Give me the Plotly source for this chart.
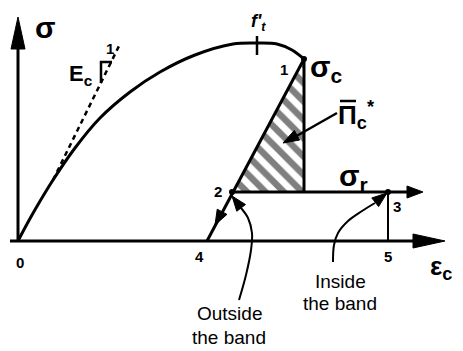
"""Schematic stress-strain diagram with unloading paths (sigma vs eps_c)."""

import math
import plotly.graph_objects as go

W, H = 463, 351
PAGE_MARGIN = 8   # browser body margin; the plot area starts here
FONT = 'Liberation Sans'

# axes (pixel frame, y downward)
ORIGIN = (18, 241)
X_TIP = (445, 241)
Y_TIP = (18, 17)

# envelope: origin -> peak f't -> point 1
CURVE_X = [18, 27, 36, 53, 75, 100, 130, 160, 195, 233, 257, 277, 292, 304]
CURVE_Y = [241, 224, 208, 180, 148, 118, 92, 72, 55, 44, 43, 44, 50, 59]

# initial tangent E_c (dashed) and slope marker
TANGENT_X = [53, 119]
TANGENT_Y = [180, 46]
SLOPE_X = [101, 101, 112]
SLOPE_Y = [83, 62, 62]

# key points 1..5
PT_X = {'1': 304, '2': 232, '3': 388, '4': 207, '5': 388}
PT_Y = {'1': 59, '2': 192, '3': 192, '4': 241, '5': 241}

PEAK_X = 257
SIGMA_R_TIP = 423

# annotation curves
OUTSIDE_X = [239, 246, 251, 252, 248, 241]
OUTSIDE_Y = [300, 275, 250, 233, 218, 208]
INSIDE_X = [333, 334, 338, 348, 362, 375]
INSIDE_Y = [262, 245, 233, 221, 211, 203]

fig = go.Figure()


def line(xs, ys, width=3, dash=None, shape='linear'):
    fig.add_trace(go.Scatter(
        x=xs, y=ys, mode='lines', hoverinfo='skip', showlegend=False,
        line=dict(color='black', width=width, dash=dash, shape=shape, smoothing=1.0),
    ))


def head(tip, frm, length, width):
    dx, dy = tip[0] - frm[0], tip[1] - frm[1]
    d = math.hypot(dx, dy)
    ux, uy = dx / d, dy / d
    bx, by = tip[0] - ux * length, tip[1] - uy * length
    px, py = -uy * width / 2, ux * width / 2
    fig.add_trace(go.Scatter(
        x=[tip[0], bx + px, bx - px, tip[0]],
        y=[tip[1], by + py, by - py, tip[1]],
        mode='lines', fill='toself', fillcolor='black', hoverinfo='skip',
        line=dict(color='black', width=1), showlegend=False,
    ))


def label(x, y, text, size=15, bold=True, style='normal'):
    fig.add_annotation(
        x=x, y=y, xref='x', yref='y', text=f'<b>{text}</b>' if bold else text,
        showarrow=False, xanchor='center', yanchor='middle',
        font=dict(family=FONT, size=size, color='black', style=style),
    )


# hatched area Pi_c*
fig.add_trace(go.Scatter(
    x=[PT_X['1'], PT_X['1'], PT_X['2'], PT_X['1']],
    y=[PT_Y['1'], PT_Y['2'], PT_Y['2'], PT_Y['1']],
    mode='lines', fill='toself', hoverinfo='skip', showlegend=False,
    line=dict(color='black', width=0),
    fillpattern=dict(shape='\\', fgcolor='black', bgcolor='white', size=13, solidity=0.5),
))

# axes
line([ORIGIN[0] - 8, X_TIP[0] - 20], [ORIGIN[1], X_TIP[1]])
head(X_TIP, ORIGIN, 32, 14)
line([ORIGIN[0], Y_TIP[0]], [ORIGIN[1], Y_TIP[1] + 20])
head(Y_TIP, ORIGIN, 32, 14)

# envelope curve and tangent
line(CURVE_X, CURVE_Y, shape='spline')
line(TANGENT_X, TANGENT_Y, width=2.5, dash='5px,4px')
line(SLOPE_X, SLOPE_Y, width=2.5)
line([PEAK_X, PEAK_X], [36, 55], width=2.5)

# unloading 1 -> 2 -> 4, vertical drop 1, sigma_r plateau, 3 -> 5
line([PT_X['1'], PT_X['4']], [PT_Y['1'], PT_Y['4']])
head((215, 225), (PT_X['1'], PT_Y['1']), 15, 11)
line([PT_X['1'], PT_X['1']], [PT_Y['1'], PT_Y['2']])
line([PT_X['2'], SIGMA_R_TIP - 10], [PT_Y['2'], PT_Y['2']])
head((SIGMA_R_TIP, PT_Y['2']), (PT_X['2'], PT_Y['2']), 16, 12)
line([PT_X['3'], PT_X['5']], [PT_Y['3'], PT_Y['5']], width=2)

fig.add_trace(go.Scatter(
    x=[PT_X[k] for k in '123'], y=[PT_Y[k] for k in '123'],
    mode='markers', marker=dict(color='black', size=6),
    hoverinfo='skip', showlegend=False,
))

# Pi_c* pointer
line([337, 293], [113, 138], width=2.5)
head((283, 143), (337, 113), 16, 11)

# outside / inside the band pointers
line(OUTSIDE_X, OUTSIDE_Y, width=2, shape='spline')
head((232, 196), (242, 209), 15, 11)
line(INSIDE_X, INSIDE_Y, width=2, shape='spline')
head((387, 193), (373, 204), 15, 11)

# text
label(45, 27, 'σ', size=30)
label(81, 75, 'E<sub>c</sub>', size=22)
label(110, 48, '1', size=15)
label(258, 22, "<b>f'<sub>t</sub></b>", size=18, bold=False, style='italic')
label(326, 68, 'σ<sub>c</sub>', size=30)
label(356, 115, 'Π<sub>c</sub><sup>*</sup>', size=26)
line([340, 356], [101, 101], width=2.5)   # overbar on Pi
label(353, 177, 'σ<sub>r</sub>', size=30)
label(441, 267, 'ε<sub>c</sub>', size=26)
label(284, 69, '1')
label(218, 191, '2')
label(397, 206, '3')
label(20, 262, '0')
label(199, 256, '4')
label(388, 256, '5')
label(229, 313, 'Outside', size=19, bold=False)
label(229, 337, 'the band', size=19, bold=False)
label(340, 281, 'Inside', size=19, bold=False)
label(340, 303, 'the band', size=19, bold=False)

fig.update_layout(
    width=W - PAGE_MARGIN, height=H - PAGE_MARGIN,
    margin=dict(l=0, r=0, t=0, b=0),
    paper_bgcolor='white', plot_bgcolor='white',
    xaxis=dict(range=[PAGE_MARGIN, W], visible=False, fixedrange=True),
    yaxis=dict(range=[H, PAGE_MARGIN], visible=False, fixedrange=True),
)

fig.write_html("out.html")
